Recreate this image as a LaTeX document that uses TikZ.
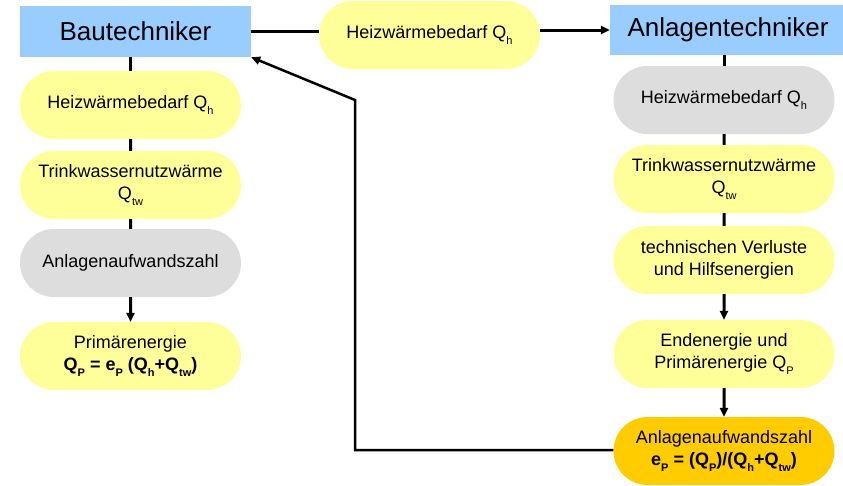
\documentclass[tikz,border=0pt]{standalone}
\usepackage{fontspec}
\setmainfont{Liberation Sans}
\usetikzlibrary{arrows.meta,shapes.misc}
\definecolor{boxblue}{HTML}{99CCFF}
\definecolor{pillyellow}{HTML}{FFFF99}
\definecolor{pillgray}{HTML}{DDDDDD}
\definecolor{pillorange}{HTML}{FFCC00}
\newcommand\lowsub[1]{\raisebox{-0.3em}{\fontsize{11}{11}\selectfont #1}}
\begin{document}
\begin{tikzpicture}[x=1pt,y=-1pt,
  role/.style={rectangle, fill=boxblue, inner sep=0pt, font=\fontsize{26}{30}\selectfont},
  pill/.style={rounded rectangle, minimum width=221pt, minimum height=68pt, inner sep=0pt,
    align=center, font=\fontsize{18}{22}\selectfont},
  yel/.style={pill, fill=pillyellow},
  gry/.style={pill, fill=pillgray},
  org/.style={pill, fill=pillorange},
  link/.style={line width=3pt},
  flow/.style={link, -{Triangle[length=9pt,width=8pt]}}
]
\useasboundingbox (0,0) rectangle (843,485);

% role headers
\node[role, minimum width=231pt, minimum height=51pt] (bau) at (135.5,31.5) {Bautechniker};
\node[role, minimum width=236pt, minimum height=50pt] (anl) at (728,30) {Anlagentechniker};

% handed-over value
\node[yel, minimum width=221pt] (qtop) at (429.5,35) {Heizwärmebedarf Q\lowsub{h}};

% left column
\node[yel] (l1) at (130.5,105) {Heizwärmebedarf Q\lowsub{h}};
\node[yel] (l2) at (130.5,185) {Trinkwassernutzwärme\\Q\lowsub{tw}};
\node[gry] (l3) at (130.5,263) {Anlagenaufwandszahl};
\node[yel] (l4) at (130.5,356) {Primärenergie\\\textbf{Q\lowsub{P} = e\lowsub{P} (Q\lowsub{h}+Q\lowsub{tw})}};

% right column
\node[gry] (r1) at (724,100) {Heizwärmebedarf Q\lowsub{h}};
\node[yel] (r2) at (724,179) {Trinkwassernutzwärme\\Q\lowsub{tw}};
\node[yel] (r3) at (724,260) {technischen Verluste\\und Hilfsenergien};
\node[yel] (r4) at (724,354) {Endenergie und\\Primärenergie Q\lowsub{P}};
\node[org] (r5) at (724,451) {Anlagenaufwandszahl\\\textbf{e\lowsub{P} = (Q\lowsub{P})/(Q\lowsub{h}+Q\lowsub{tw})}};

% top connectors
\draw[link] (bau.east) -- (bau.east -| qtop.west);
\draw[flow] (qtop.east |- anl.west) -- (anl.west);

% left chain
\draw[link] (bau.south -| l1.north) -- (l1.north);
\draw[link] (l1) -- (l2);
\draw[link] (l2) -- (l3);
\draw[flow] (l3) -- (l4);

% right chain
\draw[link] (anl.south -| r1.north) -- (r1.north);
\draw[link] (r1) -- (r2);
\draw[link] (r2) -- (r3);
\draw[flow] (r3) -- (r4);
\draw[flow] (r4) -- (r5);

% feedback to the Bautechniker
\coordinate (fbcorner) at (355,450);
\coordinate (fbbend) at (355,100);
\draw[flow, line width=2.5pt, line join=miter] (r5.west |- fbcorner) -- (fbcorner) -- (fbbend) -- (bau.south east);
\end{tikzpicture}
\end{document}
